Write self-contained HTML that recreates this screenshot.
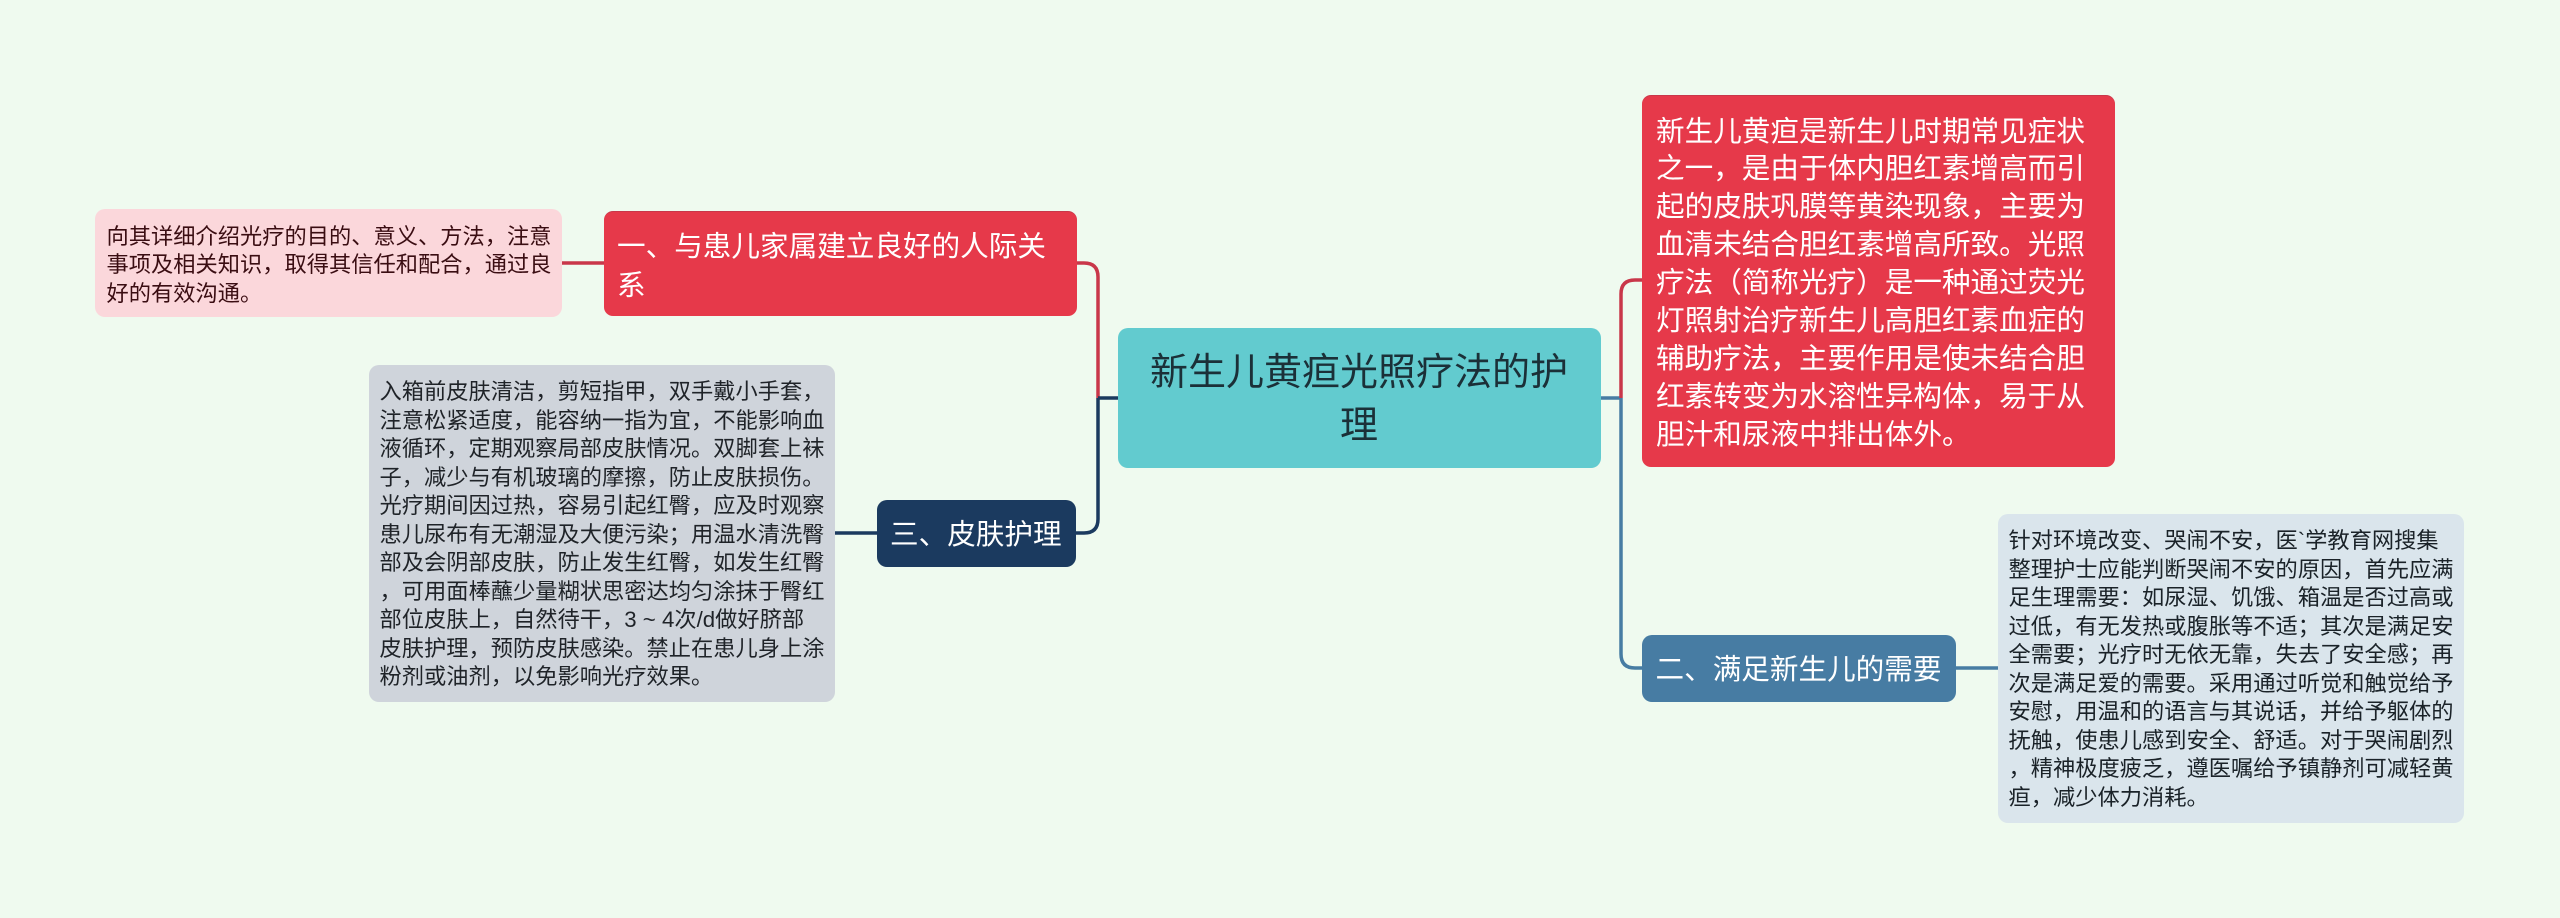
<!DOCTYPE html>
<html lang="zh">
<head>
<meta charset="utf-8">
<style>
html,body{margin:0;padding:0;width:2560px;height:918px;overflow:hidden;background:#effaef}
body{position:relative;font-family:"Liberation Sans","Noto Sans CJK SC",sans-serif}
.b{position:absolute;box-sizing:border-box}
.t{position:absolute;white-space:pre;filter:blur(.35px)}
svg{position:absolute;left:0;top:0}
</style>
</head>
<body>
<svg width="2560" height="918" fill="none" stroke-width="3.5">
<path d="M562 263H604" stroke="#c9374a"/>
<path d="M1077 263H1084Q1098 263 1098 277V398" stroke="#c9374a"/>
<path d="M1098 398V519Q1098 533 1084 533H1076" stroke="#1b3a5f"/>
<path d="M1098 398H1118" stroke="#1b3a5f"/>
<path d="M835 533H877" stroke="#1b3a5f"/>
<path d="M1601 398H1621" stroke="#477ca3"/>
<path d="M1621 398V294Q1621 280 1635 280H1642" stroke="#c9374a"/>
<path d="M1621 398V654Q1621 668 1635 668H1642" stroke="#477ca3"/>
<path d="M1956 668H1998" stroke="#477ca3"/>
</svg>

<div class="b" style="left:95px;top:209px;width:467px;height:108px;background:#fbd7db;border-radius:10px"></div>
<div class="t" style="left:106.5px;top:223px;font-size:22.25px;line-height:28.3px;color:#3a0d12">向其详细介绍光疗的目的、意义、方法，注意
事项及相关知识，取得其信任和配合，通过良
好的有效沟通。</div>

<div class="b" style="left:604px;top:211px;width:473px;height:105px;background:#e6394a;border-top:1px solid #c9374a;border-radius:9px"></div>
<div class="t" style="left:617px;top:228px;font-size:28.6px;line-height:39px;color:#fff">一、与患儿家属建立良好的人际关
系</div>

<div class="b" style="left:369px;top:365px;width:466px;height:337px;background:#cfd4db;border-radius:10px"></div>
<div class="t" style="left:379.5px;top:378px;font-size:22.25px;line-height:28.5px;color:#1f2328">入箱前皮肤清洁，剪短指甲，双手戴小手套，
注意松紧适度，能容纳一指为宜，不能影响血
液循环，定期观察局部皮肤情况。双脚套上袜
子，减少与有机玻璃的摩擦，防止皮肤损伤。
光疗期间因过热，容易引起红臀，应及时观察
患儿尿布有无潮湿及大便污染；用温水清洗臀
部及会阴部皮肤，防止发生红臀，如发生红臀
，可用面棒蘸少量糊状思密达均匀涂抹于臀红
部位皮肤上，自然待干，3 ~ 4次/d做好脐部
皮肤护理，预防皮肤感染。禁止在患儿身上涂
粉剂或油剂，以免影响光疗效果。</div>

<div class="b" style="left:877px;top:500px;width:199px;height:67px;background:#1b3a5f;border-radius:10px"></div>
<div class="t" style="left:890px;top:516px;font-size:28.6px;line-height:39px;color:#fff">三、皮肤护理</div>

<div class="b" style="left:1118px;top:328px;width:483px;height:140px;background:#62cbcf;border-radius:10px"></div>
<div class="t" style="left:1117.5px;width:483px;top:347px;font-size:38px;line-height:53px;color:#1b3038;text-align:center">新生儿黄疸光照疗法的护
理</div>

<div class="b" style="left:1642px;top:95px;width:473px;height:372px;background:#e6394a;border-top:1px solid #c9374a;border-radius:9px"></div>
<div class="t" style="left:1656px;top:113.5px;font-size:28.6px;line-height:37.9px;color:#fff">新生儿黄疸是新生儿时期常见症状
之一，是由于体内胆红素增高而引
起的皮肤巩膜等黄染现象，主要为
血清未结合胆红素增高所致。光照
疗法（简称光疗）是一种通过荧光
灯照射治疗新生儿高胆红素血症的
辅助疗法，主要作用是使未结合胆
红素转变为水溶性异构体，易于从
胆汁和尿液中排出体外。</div>

<div class="b" style="left:1642px;top:635px;width:314px;height:67px;background:#477ca3;border-radius:10px"></div>
<div class="t" style="left:1655.5px;top:650.5px;font-size:28.6px;line-height:39px;color:#fff">二、满足新生儿的需要</div>

<div class="b" style="left:1998px;top:514px;width:466px;height:309px;background:#dae5ec;border-radius:10px"></div>
<div class="t" style="left:2008.5px;top:527px;font-size:22.25px;line-height:28.5px;color:#1a2228">针对环境改变、哭闹不安，医`学教育网搜集
整理护士应能判断哭闹不安的原因，首先应满
足生理需要：如尿湿、饥饿、箱温是否过高或
过低，有无发热或腹胀等不适；其次是满足安
全需要；光疗时无依无靠，失去了安全感；再
次是满足爱的需要。采用通过听觉和触觉给予
安慰，用温和的语言与其说话，并给予躯体的
抚触，使患儿感到安全、舒适。对于哭闹剧烈
，精神极度疲乏，遵医嘱给予镇静剂可减轻黄
疸，减少体力消耗。</div>
</body>
</html>
